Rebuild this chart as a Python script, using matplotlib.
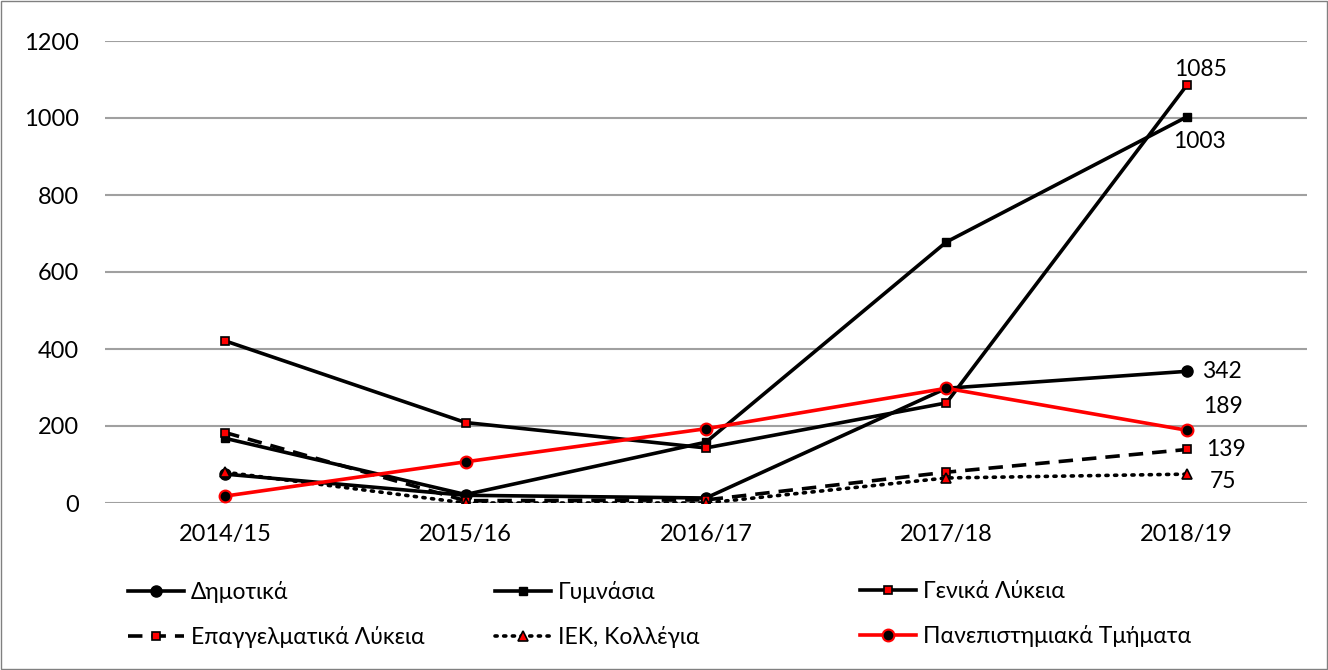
import numpy as np
import matplotlib.pyplot as plt
from matplotlib.patches import Rectangle

plt.rcParams['font.family'] = ['Lato', 'Open Sans', 'DejaVu Sans']

years = ['2014/15', '2015/16', '2016/17', '2017/18', '2018/19']

dimotika = [75, 20, 13, 298, 342]
gymnasia = [168, 22, 158, 678, 1003]
genika = [421, 209, 143, 260, 1085]
epaggelmatika = [183, 6, 8, 80, 139]
iek = [80, 0, 0, 65, 75]
panepist = [18, 107, 193, 298, 189]

fig = plt.figure(figsize=(13.28, 6.70), dpi=100)
ax = fig.add_axes([105 / 1328, 1 - 503 / 670, 1202 / 1328, 462 / 670])

x = np.arange(len(years))
lw = 2.6

l1, = ax.plot(x, dimotika, color='black', lw=lw, marker='o', ms=8,
              mfc='black', mec='black', label='Δημοτικά', zorder=3)
l2, = ax.plot(x, gymnasia, color='black', lw=lw, marker='s', ms=6,
              mfc='black', mec='black', label='Γυμνάσια', zorder=3)
l3, = ax.plot(x, genika, color='black', lw=lw, marker='s', ms=6,
              mfc='red', mec='black', mew=1.2, label='Γενικά Λύκεια', zorder=3)
l4, = ax.plot(x, epaggelmatika, color='black', lw=lw, ls=(0, (4, 2.5)),
              marker='s', ms=6, mfc='red', mec='black', mew=1.2,
              label='Επαγγελματικά Λύκεια', zorder=3)
l5, = ax.plot(x, iek, color='black', lw=lw, ls=(0, (0.6, 1.8)),
              dash_capstyle='round', marker='^', ms=7.5, mfc='red', mec='black',
              mew=1.2, label='IEK, Κολλέγια', zorder=3)
l6, = ax.plot(x, panepist, color='red', lw=lw, marker='o', ms=8.5,
              mfc='black', mec='red', mew=1.5, label='Πανεπιστημιακά Τμήματα', zorder=4)

# value labels on the last year
fs = 16.5
ax.annotate('1085', (4, genika[-1]), xytext=(10, 11), textcoords='offset points',
            ha='center', va='center', fontsize=fs)
ax.annotate('1003', (4, gymnasia[-1]), xytext=(9, -18), textcoords='offset points',
            ha='center', va='center', fontsize=fs)
ax.annotate('342', (4, dimotika[-1]), xytext=(11, 0), textcoords='offset points',
            ha='left', va='center', fontsize=fs)
ax.annotate('189', (4, panepist[-1]), xytext=(11.5, 17), textcoords='offset points',
            ha='left', va='center', fontsize=fs)
ax.annotate('139', (4, epaggelmatika[-1]), xytext=(14, 0), textcoords='offset points',
            ha='left', va='center', fontsize=fs)
ax.annotate('75', (4, iek[-1]), xytext=(16.5, -5), textcoords='offset points',
            ha='left', va='center', fontsize=fs)

ax.set_xlim(-0.5, 4.5)
ax.set_ylim(0, 1200)
ax.set_yticks(np.arange(0, 1201, 200))
ax.set_xticks(x)
ax.set_xticklabels(years)
ax.tick_params(length=0, labelsize=17)
ax.tick_params(axis='y', pad=19)
ax.tick_params(axis='x', pad=15)
ax.grid(axis='y', color='#a0a0a0', lw=1.5)
ax.set_axisbelow(True)
for s in ax.spines.values():
    s.set_visible(False)

# legend in three columns
cols = [([l1, l4], 128), ([l2, l5], 495), ([l3, l6], 860)]
for handles, px in cols:
    leg = fig.legend(handles=handles, loc='upper left',
                     bbox_to_anchor=(px / 1328, 1 - 581 / 670),
                     frameon=False, fontsize=16.5, handlelength=2.45,
                     handletextpad=0.3, borderaxespad=0, borderpad=0,
                     labelspacing=1.0)

fig.patches.append(Rectangle((0.001, 0.001), 0.998, 0.997, transform=fig.transFigure,
                             fill=False, edgecolor='#808080', lw=1))

fig.savefig('out.png', dpi=100)
